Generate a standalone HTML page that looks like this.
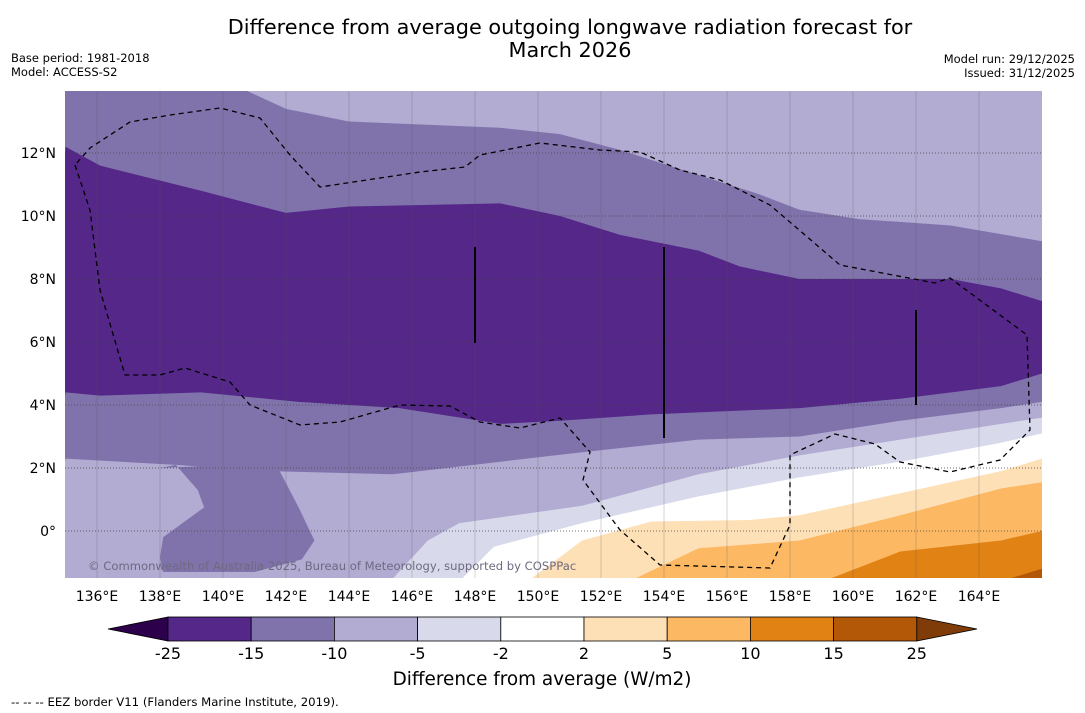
<!DOCTYPE html>
<html><head><meta charset="utf-8"><style>
body{margin:0;background:#fff;width:1085px;height:713px;overflow:hidden;font-family:"DejaVu Sans","Liberation Sans",sans-serif;}
svg{display:block}
</style></head><body>
<svg id="chart" width="1085" height="713" viewBox="0 0 1085 713" xmlns="http://www.w3.org/2000/svg">
<text x="570" y="34" font-size="20.8" text-anchor="middle" fill="#000">Difference from average outgoing longwave radiation forecast for</text>
<text x="570" y="57" font-size="20.8" text-anchor="middle" fill="#000">March 2026</text>
<text x="11" y="62" font-size="11.5">Base period: 1981-2018</text>
<text x="11" y="76" font-size="11.5">Model: ACCESS-S2</text>
<text x="1075" y="63" font-size="11.5" text-anchor="end">Model run: 29/12/2025</text>
<text x="1075" y="77" font-size="11.5" text-anchor="end">Issued: 31/12/2025</text>
<defs><clipPath id="mapclip"><rect x="65" y="91" width="977" height="487"/></clipPath></defs>
<g id="map" clip-path="url(#mapclip)"></g>
<g id="axes"></g>
<g id="cbar"></g>
<text x="542" y="685" font-size="18.4" text-anchor="middle">Difference from average (W/m2)</text>
<text x="11" y="706" font-size="11.7">--  --  -- EEZ border V11 (Flanders Marine Institute, 2019).</text>
</svg>
<script>
const lonTicks=[136,138,140,142,144,146,148,150,152,154,156,158,160,162,164];
const latTicks=[0,2,4,6,8,10,12];
const latLabels=["0°","2°N","4°N","6°N","8°N","10°N","12°N"];
const bndA=[[135,15],[140.5,15],[140.7,14],[142,13.4],[144,13.0],[148.8,12.8],[150.7,12.6],[152.6,12.1],[155.1,11.3],[157,10.7],[158.3,10.2],[160.2,9.9],[163.1,9.7],[166,9.2]];
const bndB=[[135,12.2],[136.1,11.6],[139.3,10.8],[142,10.1],[144,10.3],[148.8,10.4],[150.7,10.0],[152.6,9.4],[155.1,8.9],[156.4,8.4],[158.3,8.0],[159.9,8.0],[163.1,8.0],[164.7,7.7],[166,7.3]];
const bndC=[[135,4.4],[136.1,4.3],[139.3,4.4],[142.4,4.1],[145.6,3.9],[148.8,3.4],[150.7,3.5],[153.6,3.7],[158.3,3.9],[161.5,4.2],[164.7,4.6],[166,5.0]];
const bndD=[[135,2.3],[138.5,2.1],[141.5,1.9],[145.4,1.8],[148.8,2.2],[151.4,2.5],[155.1,2.9],[158.3,3.0],[161.5,3.5],[164.7,3.9],[166,4.1]];
const lobe=[[138.0,2.0],[138.5,2.1],[139.2,1.3],[139.4,0.75],[138.1,-0.2],[138.0,-0.85],[138.1,-1.3],[141.0,-1.3],[142.5,-0.9],[142.9,-0.3],[142.4,0.75],[141.8,1.9],[142.5,2.2]];
const bndE=[[145,-3],[145.4,-1.5],[146.5,-0.3],[147.5,0.25],[151.4,0.8],[155.1,1.8],[158.3,2.4],[161.5,2.9],[164.7,3.4],[166,3.6]];
const bndF=[[147.3,-3],[147.6,-1.5],[148.6,-0.5],[151.4,0.25],[155.1,1.1],[158.3,1.7],[161.5,2.2],[164.7,2.8],[166,3.1]];
const bndG=[[149.5,-3],[149.8,-1.5],[151.4,-0.3],[153.6,0.3],[156.7,0.35],[158.3,0.5],[161.5,1.2],[164.7,1.9],[166,2.3]];
const bndH=[[152.8,-3],[153.1,-1.5],[155.1,-0.55],[158.3,-0.3],[161.5,0.5],[164.7,1.35],[166,1.55]];
const bndI=[[159,-3],[159.3,-1.5],[161.5,-0.65],[164.7,-0.3],[166,0]];
const bndJ=[[164.8,-3],[165,-1.5],[166,-1.2]];
const cbLevels=["-25","-15","-10","-5","-2","2","5","10","15","25"];
const cbColors=["#542788","#8073ac","#b2abd2","#d8daeb","#ffffff","#fee0b6","#fdb863","#e08214","#b35806"];
const NS="http://www.w3.org/2000/svg";
const X=lon=>97+(lon-136)*31.5;
const Y=lat=>531-lat*31.5;
function mk(tag,attrs,parent){const e=document.createElementNS(NS,tag);for(const k in attrs)e.setAttribute(k,attrs[k]);parent.appendChild(e);return e;}
const map=document.getElementById('map');
let bg=mk('rect',{x:65,y:91,width:977,height:487,fill:'#b2abd2'},map);


function band(b,color,name){
  const pts=b.map(p=>X(p[0]).toFixed(1)+','+Y(p[1]).toFixed(1));
  pts.push(X(167)+','+Y(-3));pts.push(X(134)+','+Y(-3));
  const e=mk('polygon',{points:pts.join(' '),fill:color},map);
  
  
}
band(bndA,'#8073ac','contour-minus15-minus10-north');
band(bndB,'#542788','contour-minus25-minus15');
band(bndC,'#8073ac','contour-minus15-minus10-south');
band(bndD,'#b2abd2','contour-minus10-minus5');
const lb=mk('polygon',{points:lobe.map(p=>X(p[0]).toFixed(1)+','+Y(p[1]).toFixed(1)).join(' '),fill:'#8073ac'},map);


band(bndE,'#d8daeb','contour-minus5-minus2');
band(bndF,'#ffffff','contour-minus2-2');
band(bndG,'#fee0b6','contour-2-5');
band(bndH,'#fdb863','contour-5-10');
band(bndI,'#e08214','contour-10-15');
band(bndJ,'#b35806','contour-15-25');
lonTicks.forEach(l=>{const g=mk('line',{x1:X(l),x2:X(l),y1:91,y2:578,stroke:'#555','stroke-width':0.5,'stroke-opacity':0.5},map);

});
latTicks.forEach(l=>{const g=mk('line',{x1:65,x2:1042,y1:Y(l),y2:Y(l),stroke:'#444','stroke-width':0.8,'stroke-dasharray':'1,2'},map);

});
const eez=mk('path',{d:'M75,165 L90,210 L100,290 L125,375 L160,375 L185,368 L230,382 L250,405 L300,425 L340,422 L400,405 L450,406 L480,422 L520,428 L560,418 L590,452 L583,480 L620,530 L660,565 L770,568 L790,525 L790,455 L835,434 L875,444 L900,462 L950,472 L1000,460 L1030,430 L1027,335 L950,278 L935,283 L840,265 L770,205 L720,180 L680,170 L640,152 L600,150 L540,143 L480,155 L465,167 L420,172 L320,187 L290,155 L260,118 L220,108 L170,115 L130,122 L90,148 L75,165',fill:'none',stroke:'#000','stroke-width':1.3,'stroke-dasharray':'5,4'},map);


[[475,247,343],[664,247,438],[916,310,405]].forEach(v=>{const l=mk('line',{x1:v[0],x2:v[0],y1:v[1],y2:v[2],stroke:'#000','stroke-width':2},map);

});
const cp=mk('text',{x:88,y:570,'font-size':11.6,fill:'#6e6a80'},map);cp.textContent='© Commonwealth of Australia 2025, Bureau of Meteorology, supported by COSPPac';


const ax=document.getElementById('axes');
lonTicks.forEach(l=>{const t=mk('text',{x:X(l),y:601,'font-size':14,'text-anchor':'middle'},ax);t.textContent=l+'°E';

});
latTicks.forEach((l,i)=>{const t=mk('text',{x:56,y:Y(l)+5,'font-size':14,'text-anchor':'end'},ax);t.textContent=latLabels[i];

});
const cb=document.getElementById('cbar');
const x0=168,w=83.2,y0=617,h=24;
const lt=mk('polygon',{points:`${x0},${y0} 108,${y0+h/2} ${x0},${y0+h}`,fill:'#2d004b',stroke:'#000','stroke-width':0.8},cb);


cbColors.forEach((c,i)=>{const r=mk('rect',{x:x0+i*w,y:y0,width:w,height:h,fill:c,stroke:'#000','stroke-width':0.8},cb);

});
const xe=x0+cbColors.length*w;
const rt=mk('polygon',{points:`${xe},${y0} 977,${y0+h/2} ${xe},${y0+h}`,fill:'#7f3b08',stroke:'#000','stroke-width':0.8},cb);


cbLevels.forEach((s,i)=>{const t=mk('text',{x:x0+i*w,y:659,'font-size':16,'text-anchor':'middle'},cb);t.textContent=s;

});
</script>
</body></html>
